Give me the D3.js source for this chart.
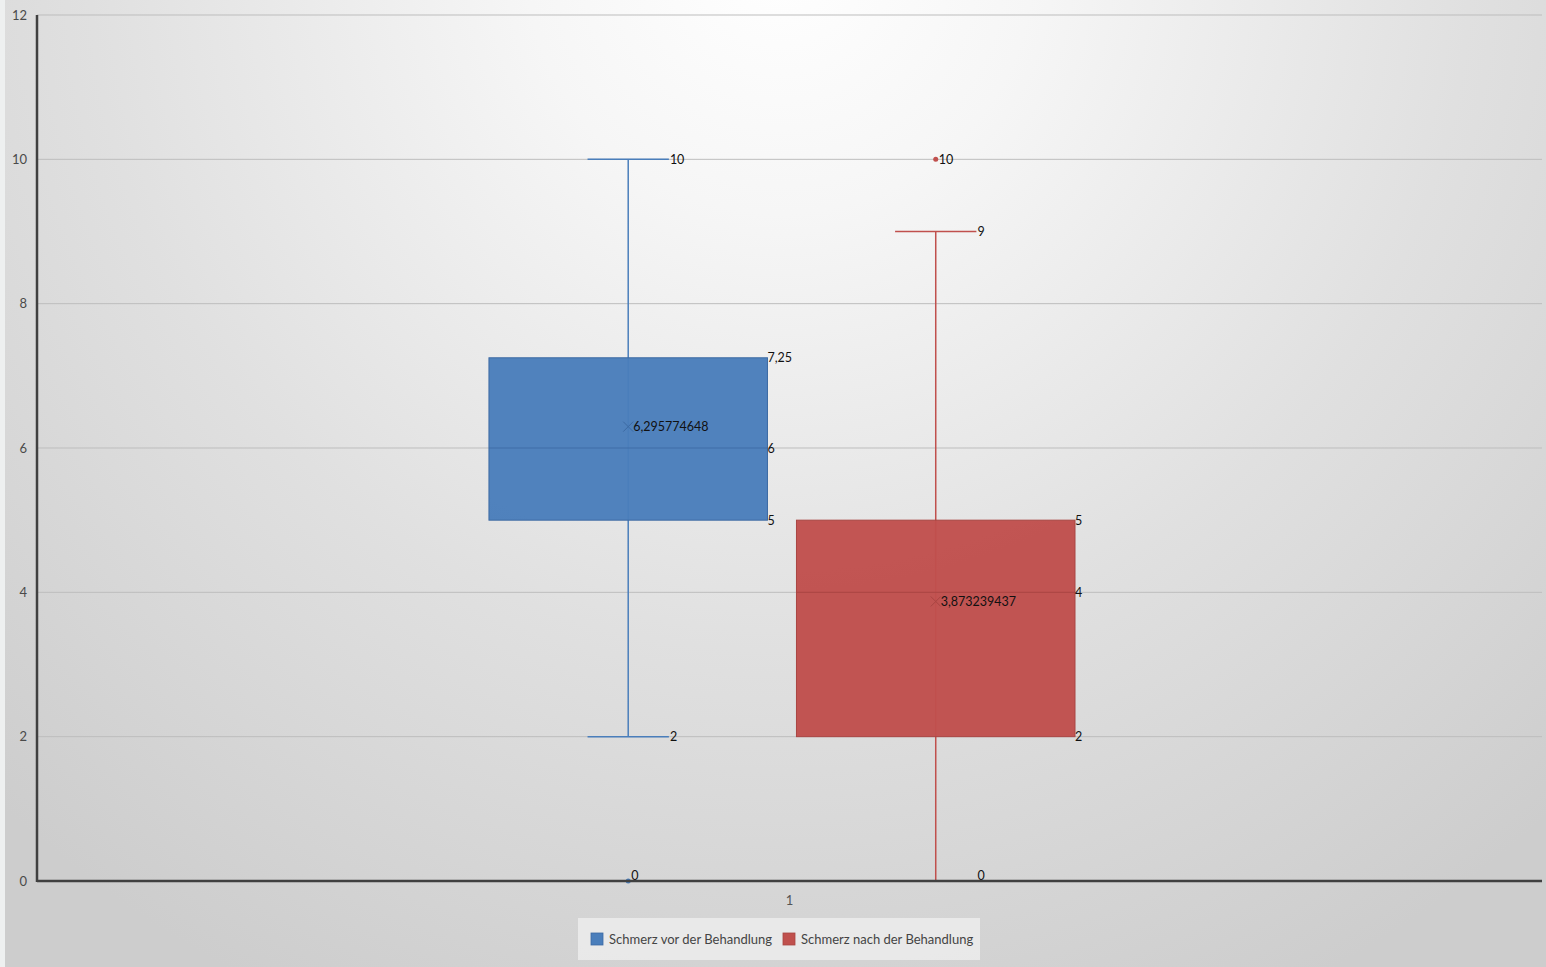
<!DOCTYPE html>
<html>
<head>
<meta charset="utf-8">
<script src="https://cdn.jsdelivr.net/npm/d3@7"></script>
<style>
  html, body { margin: 0; padding: 0; overflow: hidden; }
  body { width: 1546px; height: 967px; }
  svg { display: block; font-family: Lato, "Open Sans", sans-serif; }
</style>
</head>
<body>
<svg id="chart" width="1546" height="967"></svg>
<script>
// Pain scores before / after treatment (box plot statistics)
const categories = ["1"];
const seriesNames = ["Schmerz vor der Behandlung", "Schmerz nach der Behandlung"];
const seriesColors = ["#4a7ebb", "#c0504d"];
const seriesStroke = ["#3c6aa3", "#a94542"];
const whiskerLow  = [2, 0];
const quartile1   = [5, 2];
const medians     = [6, 4];
const quartile3   = [7.25, 5];
const whiskerHigh = [10, 9];
const means       = [6.295774648, 3.873239437];
const outliers    = [[0], [10]];
const yTicks      = [0, 2, 4, 6, 8, 10, 12];

const W = 1546, H = 967;
const margin = { left: 37, right: 4, top: 15, bottom: 86 };
const svg = d3.select("#chart");

// background: soft radial light from the top centre
const defs = svg.append("defs");
const rg = defs.append("radialGradient").attr("id", "bg")
  .attr("gradientUnits", "userSpaceOnUse")
  .attr("cx", 780).attr("cy", -40).attr("r", 1150)
  .attr("fx", 780).attr("fy", -40);
rg.append("stop").attr("offset", "0").attr("stop-color", "#ffffff");
rg.append("stop").attr("offset", "0.22").attr("stop-color", "#f6f6f6");
rg.append("stop").attr("offset", "0.6").attr("stop-color", "#e0e0e0");
rg.append("stop").attr("offset", "1").attr("stop-color", "#cdcdcd");
svg.append("rect").attr("width", W).attr("height", H).attr("fill", "url(#bg)");
svg.append("rect").attr("width", 5).attr("height", H).attr("fill", "#eef0f0");

const x0 = margin.left, x1 = W - margin.right;
const y = d3.scaleLinear().domain([0, 12]).range([881, margin.top]);
const xCat = d3.scaleBand().domain(categories).range([x0, x1]);
const bw = xCat.bandwidth();
const xSeries = d3.scaleBand().domain(seriesNames)
  .range([bw * 0.3003, bw * 0.6897]).paddingInner(0.0943).paddingOuter(0);

// grid lines
svg.append("g").selectAll("line").data(yTicks.filter(t => t > 0)).join("line")
  .attr("x1", x0).attr("x2", x1)
  .attr("y1", d => y(d)).attr("y2", d => y(d))
  .attr("stroke", "#bdbdbd").attr("stroke-width", 1);

// y tick labels
const yAxis = d3.axisLeft(y).tickValues(yTicks).tickSize(0).tickPadding(10);
const gy = svg.append("g").attr("transform", `translate(${x0},0)`).call(yAxis);
gy.select(".domain").remove();
gy.selectAll("text").attr("font-size", 13).attr("fill", "#4a4a4a").attr("font-family", "Lato, sans-serif");

const fmt = v => String(v).replace(".", ",");
const labelFont = 12.5;

seriesNames.forEach((name, i) => {
  const g = svg.append("g");
  const left = xCat("1") + xSeries(name);
  const boxW = xSeries.bandwidth();
  const cx = left + boxW / 2;
  const capHalf = boxW * 0.146;
  const col = seriesColors[i];

  // whiskers
  g.append("line").attr("x1", cx).attr("x2", cx)
    .attr("y1", y(whiskerHigh[i])).attr("y2", y(whiskerLow[i]))
    .attr("stroke", col).attr("stroke-width", 1.5);
  [whiskerHigh[i], whiskerLow[i]].forEach(v => {
    g.append("line").attr("x1", cx - capHalf).attr("x2", cx + capHalf)
      .attr("y1", y(v)).attr("y2", y(v))
      .attr("stroke", col).attr("stroke-width", 1.5);
  });

  // box
  g.append("rect").attr("x", left).attr("y", y(quartile3[i]))
    .attr("width", boxW).attr("height", y(quartile1[i]) - y(quartile3[i]))
    .attr("fill", col).attr("fill-opacity", 0.97)
    .attr("stroke", seriesStroke[i]).attr("stroke-width", 1);
  // median
  g.append("line").attr("x1", left).attr("x2", left + boxW)
    .attr("y1", y(medians[i])).attr("y2", y(medians[i]))
    .attr("stroke", seriesStroke[i]).attr("stroke-width", 1.2).attr("stroke-opacity", 0.8);

  // mean marker
  const my = y(means[i]), s = 5;
  g.append("path")
    .attr("d", `M${cx - s},${my - s}L${cx + s},${my + s}M${cx - s},${my + s}L${cx + s},${my - s}`)
    .attr("stroke", seriesStroke[i]).attr("stroke-width", 1).attr("fill", "none");

  // outliers
  outliers[i].forEach(v => {
    g.append("circle").attr("cx", cx).attr("cy", y(v)).attr("r", 2.5).attr("fill", col);
  });

  // data labels (values sitting on the axis are lifted slightly above it)
  const lab = (xp, v, txt) => g.append("text").attr("x", xp)
    .attr("y", v === 0 ? y(v) - 1 : y(v) + 4.5)
    .attr("font-size", labelFont).attr("fill", "#111").text(txt);
  lab(cx + capHalf + 1, whiskerHigh[i], fmt(whiskerHigh[i]));
  lab(cx + capHalf + 1, whiskerLow[i], fmt(whiskerLow[i]));
  lab(left + boxW, quartile3[i], fmt(quartile3[i]));
  lab(left + boxW, medians[i], fmt(medians[i]));
  lab(left + boxW, quartile1[i], fmt(quartile1[i]));
  lab(cx + 5, means[i], fmt(means[i]));
  outliers[i].forEach(v => lab(cx + 3, v, fmt(v)));
});

// axes lines
svg.append("line").attr("x1", x0).attr("x2", x1).attr("y1", y(0)).attr("y2", y(0))
  .attr("stroke", "#404040").attr("stroke-width", 2.5);
svg.append("line").attr("x1", x0).attr("x2", x0).attr("y1", y(12)).attr("y2", y(0) + 1)
  .attr("stroke", "#404040").attr("stroke-width", 2.5);

// category label
const xAxis = d3.axisBottom(xCat).tickSize(0).tickPadding(15);
const gx = svg.append("g").attr("transform", `translate(0,${y(0)})`).call(xAxis);
gx.select(".domain").remove();
gx.selectAll("text").attr("font-size", 13).attr("fill", "#555").attr("font-family", "Lato, sans-serif");

// legend
const legend = svg.append("g").attr("transform", "translate(578,918)");
legend.append("rect").attr("width", 402).attr("height", 42).attr("fill", "#ececec").attr("fill-opacity", 0.85);
const itemX = [13, 205];
seriesNames.forEach((name, i) => {
  legend.append("rect").attr("x", itemX[i]).attr("y", 15).attr("width", 12).attr("height", 12)
    .attr("fill", seriesColors[i]).attr("stroke", seriesStroke[i]).attr("stroke-width", 0.8);
  legend.append("text").attr("x", itemX[i] + 18).attr("y", 25.5)
    .attr("font-size", 13).attr("fill", "#444").text(name);
});
</script>
</body>
</html>
